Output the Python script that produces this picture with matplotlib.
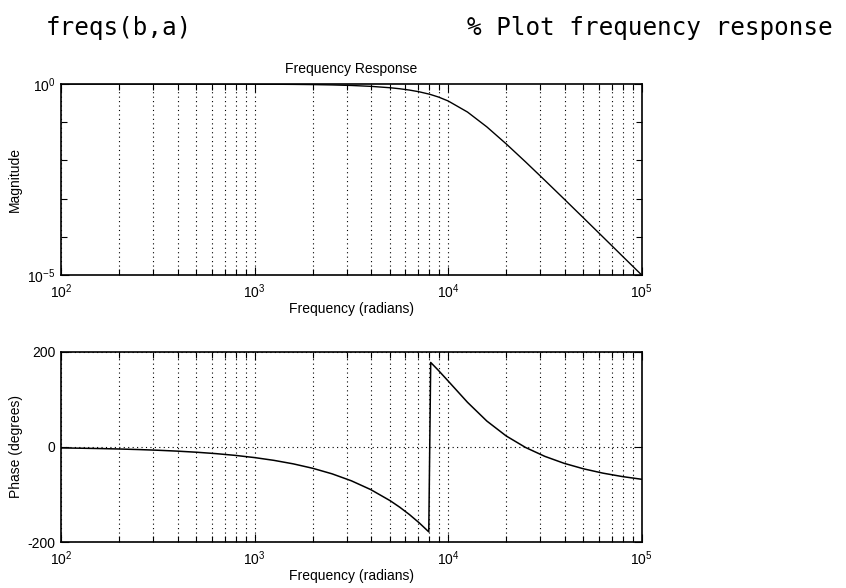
import numpy as np
import matplotlib
matplotlib.use("Agg")
import matplotlib.pyplot as plt
from matplotlib.ticker import FixedLocator, NullFormatter

plt.rcParams['font.family'] = ['Liberation Sans', 'DejaVu Sans']
plt.rcParams['mathtext.default'] = 'regular'
plt.rcParams['axes.unicode_minus'] = False

# frequency samples (rad/s)
w = [1.0e2, 1.259e2, 1.585e2, 1.995e2, 2.512e2, 3.162e2, 3.981e2, 5.012e2, 6.310e2, 7.943e2,
     1.0e3, 1.259e3, 1.585e3, 1.995e3, 2.512e3, 3.162e3, 3.981e3, 5.012e3, 5.623e3, 6.310e3,
     7.079e3, 7.943e3, 8.128e3, 8.913e3, 1.0e4, 1.259e4, 1.585e4, 1.995e4, 2.512e4, 3.162e4,
     3.981e4, 5.012e4, 6.310e4, 7.943e4, 1.0e5]

# magnitude (linear)
mag = [0.99991, 0.99986, 0.99978, 0.99966, 0.99946, 0.99914, 0.99864, 0.99784, 0.99658, 0.99458,
       0.99142, 0.98642, 0.97854, 0.96615, 0.94672, 0.91650, 0.86995, 0.79937, 0.75205, 0.69490,
       0.62670, 0.54689, 0.52959, 0.45666, 0.36048, 0.18470, 0.075518, 0.027110, 0.0091504, 0.0029991,
       9.682e-4, 3.0998e-4, 9.8764e-5, 3.1378e-5, 1.0e-5]

# phase (degrees, wrapped)
phase = [-2.26, -2.84, -3.57, -4.50, -5.67, -7.13, -8.98, -11.30, -14.23, -17.92,
         -22.55, -28.39, -35.75, -45.00, -56.65, -71.32, -89.79, -113.03, -126.83, -142.26,
         -159.5, -178.6, 177.4, 160.61, 138.44, 93.62, 54.20, 22.90, -1.30, -20.06,
         -34.71, -46.21, -55.28, -62.46, -68.14]

fig = plt.figure(figsize=(8.46, 5.88), dpi=100)
ax1 = fig.add_axes([0.0721, 0.5323, 0.6864, 0.3248])
ax2 = fig.add_axes([0.0721, 0.0782, 0.6864, 0.3237])

xmaj = [1e2, 1e3, 1e4, 1e5]
xmin = [m * d for d in [1e2, 1e3, 1e4] for m in range(2, 10)]
xlabels = ['$10^{2}$', '$10^{3}$', '$10^{4}$', '$10^{5}$']

for ax in (ax1, ax2):
    ax.set_xscale('log')
    ax.set_xlim(1e2, 1e5)
    ax.set_xticks(xmaj)
    ax.set_xticklabels(xlabels)
    ax.xaxis.set_minor_locator(FixedLocator(xmin))
    ax.xaxis.set_minor_formatter(NullFormatter())
    ax.grid(True, which='both', axis='x', linestyle=(0, (1, 3)), color='k', linewidth=0.8)
    ax.tick_params(which='both', direction='in', top=True, right=True, labelsize=10, width=0.8)
    ax.tick_params(which='major', length=6)
    ax.tick_params(which='minor', length=4)
    ax.tick_params(axis='x', which='major', pad=5)
    ax.tick_params(axis='y', which='major', pad=4)
    for s in ax.spines.values():
        s.set_linewidth(1.2)
    ax.set_xlabel('Frequency (radians)', fontsize=10, labelpad=1)

ax1.semilogy(w, mag, color='k', linewidth=1.0)
ax1.set_ylim(1e-5, 1e0)
ax1.set_yticks([1e-5, 1e0])
ax1.set_yticklabels(['$10^{-5}$', '$10^{0}$'])
ax1.yaxis.set_minor_locator(FixedLocator([1e-4, 1e-3, 1e-2, 1e-1]))
ax1.yaxis.set_minor_formatter(NullFormatter())
ax1.set_ylabel('Magnitude', fontsize=10, labelpad=4)
ax1.set_title('Frequency Response', fontsize=10, pad=8)

ax2.plot(w, phase, color='k', linewidth=1.1)
ax2.set_ylim(-200, 200)
ax2.set_yticks([-200, 0, 200])
ax2.grid(True, which='major', axis='y', linestyle=(0, (1, 3)), color='k', linewidth=0.8)
ax2.set_ylabel('Phase (degrees)', fontsize=10, labelpad=3)

fig.text(0.054, 0.9405, 'freqs(b,a)', family='DejaVu Sans Mono', fontsize=17.5, va='baseline')
fig.text(0.552, 0.9405, '% Plot frequency response', family='DejaVu Sans Mono', fontsize=17.5, va='baseline')

fig.savefig('out.png', dpi=100)
